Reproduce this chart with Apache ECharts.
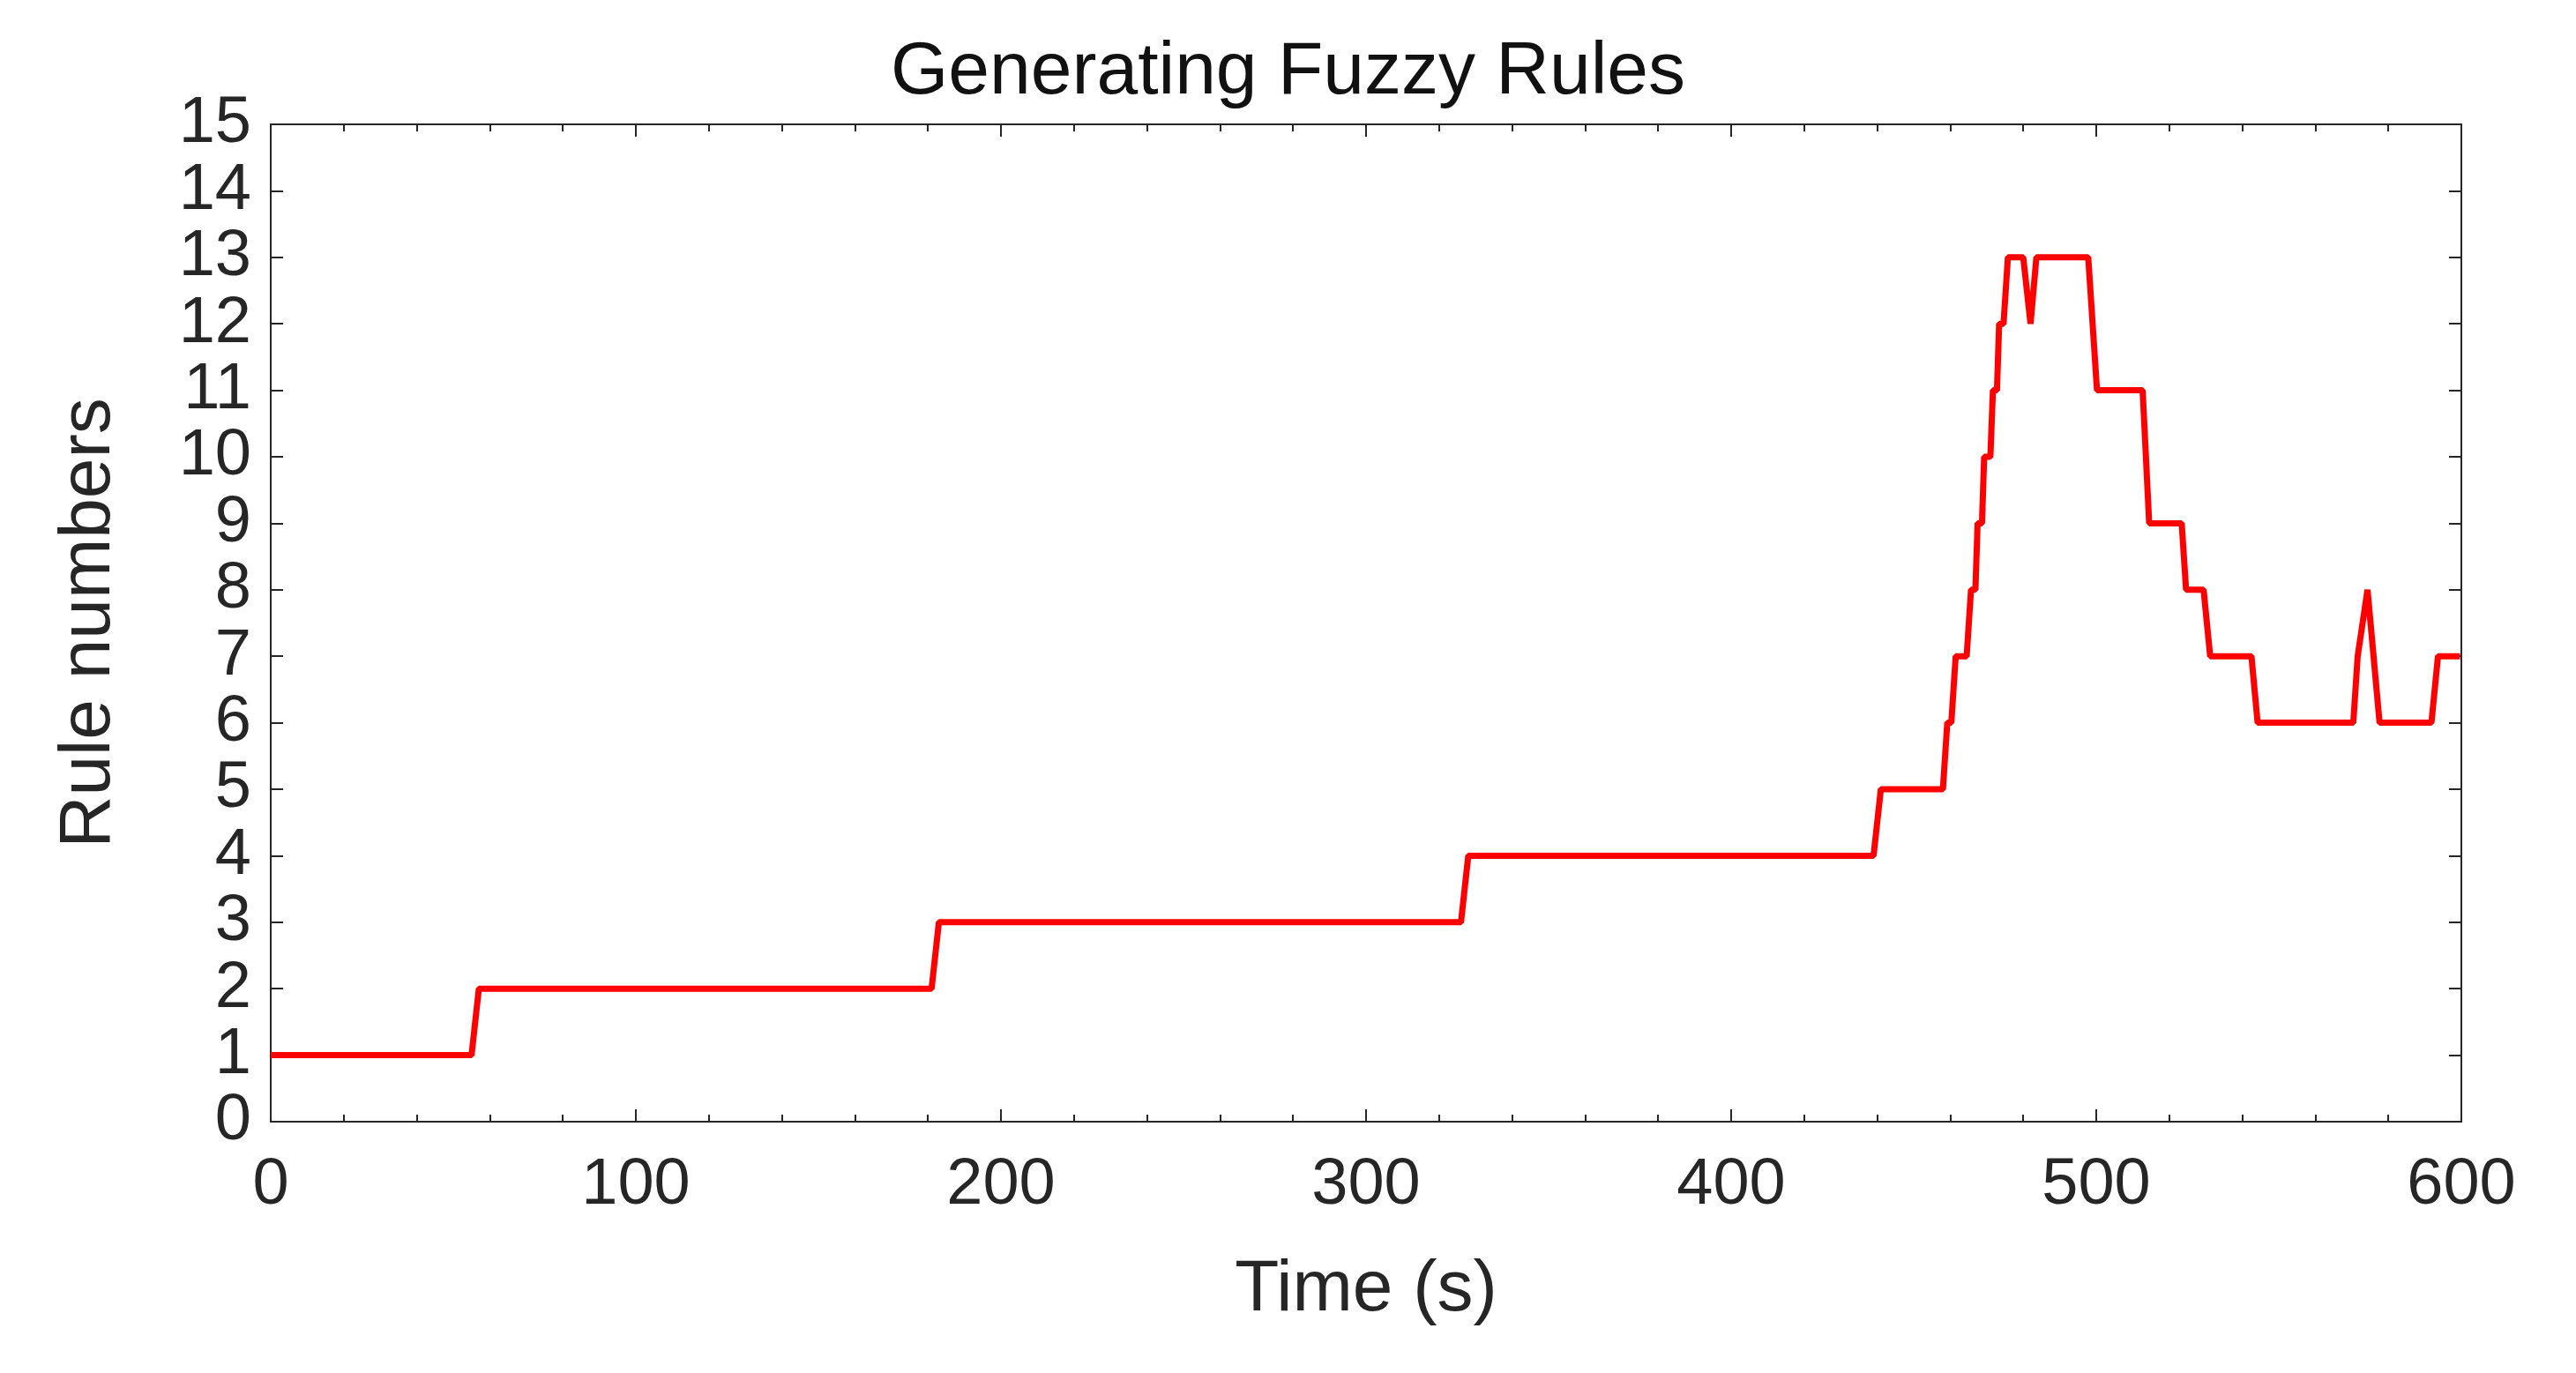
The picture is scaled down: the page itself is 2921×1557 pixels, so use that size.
<!DOCTYPE html>
<html>
<head>
<meta charset="utf-8">
<script src="https://cdn.jsdelivr.net/npm/echarts@6/dist/echarts.min.js"></script>
<style>html,body{margin:0;padding:0;background:#fff}#main{width:2921px;height:1557px}</style>
</head>
<body>
<div id="main"></div>
<script>
// time (s) and rule count
const times = [0, 55, 57, 181, 183, 326, 328, 439, 441, 458, 459.2, 460.3, 461.5, 464.5, 465.7, 466.9, 467.5, 468.7,
  469.3, 471, 471.7, 472.8, 473.4, 474.6, 475.8, 480, 482, 483.6, 497.8, 500.2, 512.7, 514.5, 523.4, 524.6,
  529.4, 531.2, 542.5, 544.2, 570.4, 571.6, 574.3, 577.6, 591.8, 593.6, 599.6];
const rules = [1, 1, 2, 2, 3, 3, 4, 4, 5, 5, 6, 6, 7, 7, 8, 8, 9, 9,
  10, 10, 11, 11, 12, 12, 13, 13, 12, 13, 13, 11, 11, 9, 9, 8,
  8, 7, 7, 6, 6, 7, 8, 6, 6, 7, 7];
const xTicks = [0, 100, 200, 300, 400, 500, 600];

const chart = echarts.init(document.getElementById('main'));
const axisCol = '#262626';
const font = 'Liberation Sans, Arial, sans-serif';
const pts = times.map((t, i) => [t, rules[i]]);

const boxAxis = {
  show: true,
  axisLine: {show: true, onZero: false, lineStyle: {color: axisCol, width: 2}},
  axisTick: {show: true, inside: true, length: 14, lineStyle: {color: axisCol, width: 2}},
  splitLine: {show: false}
};
chart.setOption({
  animation: false,
  title: {text: 'Generating Fuzzy Rules', left: 'center', top: 36,
    textStyle: {fontFamily: font, fontWeight: 'normal', fontSize: 84, color: '#111'}},
  grid: {left: 307, right: 130, top: 141, bottom: 285, show: true, borderColor: axisCol, borderWidth: 2},
  xAxis: [
    Object.assign({type: 'value', min: 0, max: 600, interval: 100, name: 'Time (s)', nameLocation: 'middle', nameGap: 150,
      nameTextStyle: {fontFamily: font, fontSize: 82, color: axisCol},
      axisLabel: {fontFamily: font, fontSize: 74, color: axisCol, margin: 36,
        formatter: v => xTicks.includes(v) ? String(v) : ''},
      minorTick: {show: true, splitNumber: 5, length: 8, lineStyle: {color: axisCol, width: 2}}}, boxAxis),
    Object.assign({type: 'value', min: 0, max: 600, interval: 100, position: 'top', axisLabel: {show: false},
      minorTick: {show: true, splitNumber: 5, length: 8, lineStyle: {color: axisCol, width: 2}}}, boxAxis)
  ],
  yAxis: [
    Object.assign({type: 'value', min: 0, max: 15, interval: 1, name: 'Rule numbers', nameLocation: 'middle', nameGap: 165,
      nameTextStyle: {fontFamily: font, fontSize: 82, color: axisCol},
      axisLabel: {fontFamily: font, fontSize: 74, color: axisCol, margin: 22}}, boxAxis),
    Object.assign({type: 'value', min: 0, max: 15, interval: 1, position: 'right', axisLabel: {show: false}}, boxAxis)
  ],
  series: [{
    type: 'line', data: pts, showSymbol: false,
    lineStyle: {color: '#ff0000', width: 7}
  }]
});
</script>
</body>
</html>
